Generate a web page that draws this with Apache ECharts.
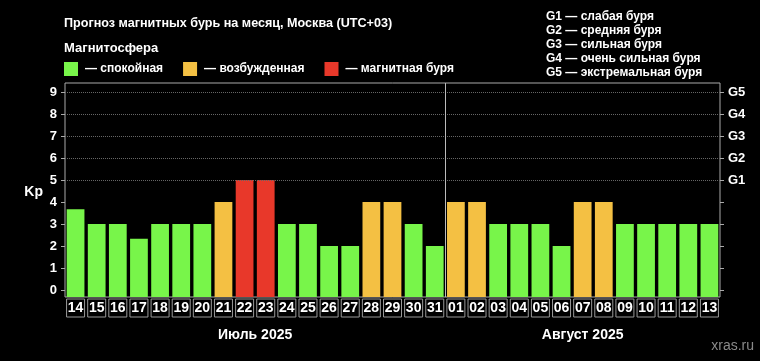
<!DOCTYPE html>
<html><head><meta charset="utf-8">
<script src="https://cdn.jsdelivr.net/npm/echarts@6/dist/echarts.min.js"></script>
<style>html,body{margin:0;padding:0;background:#000}#c{width:760px;height:361px}</style>
</head><body><div id="c"></div>
<script>
const days = ['14','15','16','17','18','19','20','21','22','23','24','25','26','27','28','29','30','31',
  '01','02','03','04','05','06','07','08','09','10','11','12','13'];
const kp = [3.67,3,3,2.33,3,3,3,4,5,5,3,3,2,2,4,4,3,2,
  4,4,3,3,3,2,4,4,3,3,3,3,3];
const months = ['Июль 2025','Август 2025'];
const monthFirst = ['14','01'];
const monthLast = ['31','13'];
const yTicks = [0,1,2,3,4,5,6,7,8,9];
const gLevels = [5,6,7,8,9];
const gLabels = ['G1','G2','G3','G4','G5'];
const legendNames = ['— спокойная','— возбужденная','— магнитная буря'];
const gLegend = ['G1 — слабая буря','G2 — средняя буря','G3 — сильная буря','G4 — очень сильная буря','G5 — экстремальная буря'];
const titleText = 'Прогноз магнитных бурь на месяц, Москва (UTC+03)';
const subTitle = 'Магнитосфера';
const yName = 'Kp';

const COLORS = ['#78f54a','#f4c043','#e8382a'];
const FONT = '"Liberation Sans", Arial, sans-serif';
const NARROW = '"Liberation Sans Narrow", "Liberation Sans", Arial, sans-serif';
const Y_MIN = -0.32, Y_MAX = 9.41;

function colorFor(v){ return v >= 5 ? COLORS[2] : (v >= 4 ? COLORS[1] : COLORS[0]); }

const chart = echarts.init(document.getElementById('c'), null, {renderer:'canvas'});
const option = {
  backgroundColor: '#000',
  animation: false,
  title: [
    {text: titleText, left: 64, top: 17, padding: 0, textStyle:{color:'#fff', fontSize:12.6, fontWeight:'bold', fontFamily:FONT}},
    {text: subTitle, left: 64, top: 42, padding: 0, textStyle:{color:'#fff', fontSize:13, fontWeight:'bold', fontFamily:FONT}},
    {text: gLegend.join('\n'), left: 546, top: 10, padding: 0, textStyle:{color:'#fff', fontSize:12, fontWeight:'bold', fontFamily:FONT, lineHeight:14}},
    {text: 'xras.ru', right: 6, bottom: 8, padding: 0, textStyle:{color:'#8a8a8a', fontSize:14, fontWeight:'normal', fontFamily:NARROW}}
  ],
  legend: {
    left: 64, top: 62, padding: 0, itemWidth: 14, itemHeight: 14, itemGap: 20, icon: 'rect', selectedMode: false,
    data: legendNames,
    textStyle: {color:'#fff', fontSize:12, fontWeight:'bold', fontFamily:FONT, padding:[0,0,0,2]}
  },
  grid: {left: 65, right: 40, top: 83, bottom: 64, show: true, borderColor: '#aaa', borderWidth: 1, backgroundColor:'transparent'},
  xAxis: {
    type: 'category', data: days, boundaryGap: true,
    axisLine: {show: false}, axisTick: {show: false}, splitLine:{show:false},
    axisLabel: {interval: 0, color:'#fff', fontSize: 14, fontWeight:'bold', fontFamily: NARROW,
      borderColor:'#999', borderWidth:1, width:18, height:18, lineHeight:19, align:'center', margin:2}
  },
  yAxis: [
    {type:'value', min: Y_MIN, max: Y_MAX, position:'left',
     name:'{k|' + yName + '}', nameLocation:'middle', nameRotate:0, nameGap:22,
     nameTextStyle:{color:'#fff', fontSize:14, fontWeight:'bold', fontFamily:FONT,
       rich:{k:{color:'#fff', fontSize:14, fontWeight:'bold', fontFamily:FONT, lineHeight:14, padding:[4,0,0,0]}}},
     axisLine:{show:false}, splitLine:{show:false},
     axisTick:{show:true, customValues: yTicks, length:4, lineStyle:{color:'#aaa'}},
     axisLabel:{customValues: yTicks, color:'#fff', fontSize:13, fontWeight:'bold', fontFamily:FONT, margin:8}},
    {type:'value', min: Y_MIN, max: Y_MAX, position:'right',
     axisLine:{show:false}, splitLine:{show:false},
     axisTick:{show:true, customValues: yTicks, length:4, lineStyle:{color:'#aaa'}},
     axisLabel:{customValues: gLevels, color:'#fff', fontSize:13, fontWeight:'bold', fontFamily:FONT, margin:8,
       formatter: v => { const i = gLevels.indexOf(Math.round(v)); return i >= 0 ? gLabels[i] : ''; }}}
  ],
  series: [
    {type:'custom', name:'Kp', data: kp.map((v,i)=>[i,v]), encode:{x:0,y:1},
     renderItem: function(params, api){
       const idx = api.value(0), v = api.value(1);
       const top = api.coord([idx, v]);
       const bot = api.coord([idx, Y_MIN]);
       const w = api.size([1,0])[0] * 0.84;
       return {type:'rect', shape:{x: top[0]-w/2, y: top[1], width: w, height: bot[1]-top[1]},
               style:{fill: colorFor(v)}};
     },
     markLine: {silent:true, symbol:'none', label:{show:false},
       lineStyle:{type:'dotted', color:'#666', width:1},
       data: gLevels.map(v => ({yAxis: v}))},
     z: 2},
    {type:'bar', name: legendNames[0], data: [], itemStyle:{color:COLORS[0]}},
    {type:'bar', name: legendNames[1], data: [], itemStyle:{color:COLORS[1]}},
    {type:'bar', name: legendNames[2], data: [], itemStyle:{color:COLORS[2]}}
  ]
};
chart.setOption(option);

// month labels and month separator, placed through the axis scale
const graphics = [];
const yBottom = chart.convertToPixel({yAxisIndex:0}, Y_MIN);
const yTop = chart.convertToPixel({yAxisIndex:0}, Y_MAX);
for (let m = 0; m < months.length; m++) {
  const x1 = chart.convertToPixel({xAxisIndex:0}, monthFirst[m]);
  const x2 = chart.convertToPixel({xAxisIndex:0}, monthLast[m]);
  graphics.push({type:'text', x:(x1+x2)/2, y: yBottom + 38,
    style:{text: months[m], fill:'#fff', font:'bold 14px ' + NARROW, textAlign:'center', textVerticalAlign:'middle'}});
  if (m > 0) {
    const prev = chart.convertToPixel({xAxisIndex:0}, monthLast[m-1]);
    const xs = Math.round((prev + x1)/2) + 0.5;
    graphics.push({type:'line', shape:{x1:xs, y1:yTop, x2:xs, y2:yBottom}, style:{stroke:'#bbb', lineWidth:1}, z:5});
  }
}
chart.setOption({graphic: graphics});
</script></body></html>
